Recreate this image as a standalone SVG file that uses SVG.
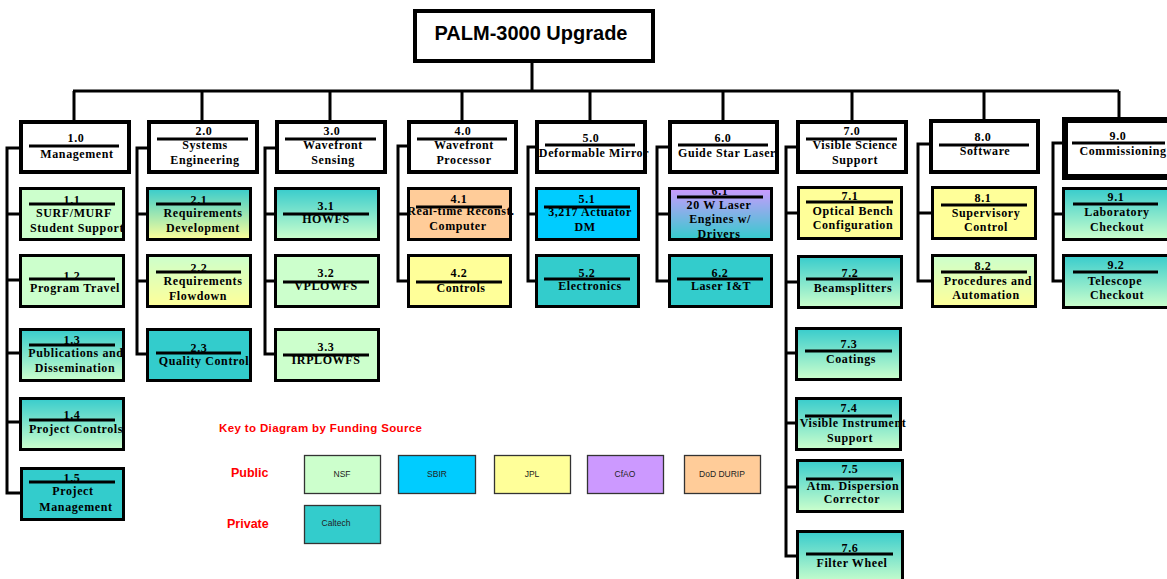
<svg xmlns="http://www.w3.org/2000/svg" width="1167" height="579" viewBox="0 0 1167 579">
<defs>
<linearGradient id="gTG" x1="0" y1="0" x2="0" y2="1"><stop offset="0" stop-color="#38cccc"/><stop offset="1" stop-color="#ccffcc"/></linearGradient>
<linearGradient id="gTY" x1="0" y1="0" x2="0" y2="1"><stop offset="0" stop-color="#38cccc"/><stop offset="1" stop-color="#ffff99"/></linearGradient>
<linearGradient id="gGY" x1="0" y1="0" x2="0" y2="1"><stop offset="0" stop-color="#ccffcc"/><stop offset="1" stop-color="#ffff99"/></linearGradient>
<linearGradient id="gPT" x1="0" y1="0" x2="0" y2="1"><stop offset="0" stop-color="#cc99ff"/><stop offset="1" stop-color="#33cccc"/></linearGradient>
</defs>
<style>
.hdr{fill:#fff;stroke:#000;stroke-width:4}
.box{stroke:#000;stroke-width:3}
.t{font-family:"Liberation Serif","Times New Roman",serif;font-weight:bold;font-size:12px;letter-spacing:0.6px;text-anchor:middle;fill:#000}
.rule{stroke:#000;stroke-width:3}
.conn{stroke:#000;stroke-width:3;fill:none}
.nsf{fill:#ccffcc}.sbir{fill:#00ccff}.jpl{fill:#ffff99}.cfao{fill:#cc99ff}.dod{fill:#ffcc99}.cit{fill:#33cccc}
.key{stroke:#333;stroke-width:1.3}
.kt{font-family:"Liberation Sans",Arial,sans-serif;font-size:8.5px;fill:#222;text-anchor:middle}
.red{font-family:"Liberation Sans",Arial,sans-serif;font-weight:bold;fill:#ff0000}
</style>
<rect width="1167" height="579" fill="#fff"/>
<g id="connectors">
<path class="conn" d="M532 63V91M73 91H1119M74 91V120M202 91V120M330 91V120M462 91V120M590 91V120M723 91V120M852 91V120M984 91V119M1119 91V118"/>
<path class="conn" d="M21 148H7V493H20M7 214H19M7 280H19M7 353H19M7 422H19"/>
<path class="conn" d="M149 148H137V354H146M137 214H146M137 281H146"/>
<path class="conn" d="M277 148H265V354H274M265 214H274M265 281H274"/>
<path class="conn" d="M409 146H398V281H407M398 214H407"/>
<path class="conn" d="M537 147H528V281H535M528 214H535"/>
<path class="conn" d="M670 147H657V281H668M657 214H668"/>
<path class="conn" d="M798 147H786V556H796M786 213H797M786 282H797M786 353H795M786 423H795M786 487H796"/>
<path class="conn" d="M931 144H918V281H931M918 213H931"/>
<path class="conn" d="M1064 143H1053V281H1062M1053 214H1062"/>
</g>
<g id="root">
<rect x="415" y="11" width="238" height="50" fill="#fff" stroke="#000" stroke-width="4"/>
<text x="531" y="40" font-family="Liberation Sans,Arial,sans-serif" font-weight="bold" font-size="20" text-anchor="middle">PALM-3000 Upgrade</text>
</g>
<g id="h1"><rect class="hdr" x="21" y="122" width="108" height="50"/><text class="t" x="76" y="142">1.0</text><line class="rule" x1="29" y1="146" x2="119" y2="146"/><text class="t" x="77" y="158">Management</text></g>
<g id="h2"><rect class="hdr" x="149" y="122" width="108" height="50"/><text class="t" x="204" y="135">2.0</text><line class="rule" x1="157" y1="139" x2="248" y2="139"/><text class="t" x="205" y="149">Systems</text><text class="t" x="205" y="164">Engineering</text></g>
<g id="h3"><rect class="hdr" x="277" y="122" width="108" height="50"/><text class="t" x="332" y="135">3.0</text><line class="rule" x1="285" y1="139" x2="376" y2="139"/><text class="t" x="333" y="149">Wavefront</text><text class="t" x="333" y="164">Sensing</text></g>
<g id="h4"><rect class="hdr" x="409" y="122" width="107" height="50"/><text class="t" x="463" y="135">4.0</text><line class="rule" x1="417" y1="139" x2="507" y2="139"/><text class="t" x="464" y="149">Wavefront</text><text class="t" x="464" y="164">Processor</text></g>
<g id="h5"><rect class="hdr" x="537" y="122" width="108" height="50"/><text class="t" x="591" y="142">5.0</text><line class="rule" x1="545" y1="145" x2="635" y2="145"/><text class="t" x="594" y="157">Deformable Mirror</text></g>
<g id="h6"><rect class="hdr" x="670" y="122" width="107" height="50"/><text class="t" x="723" y="142">6.0</text><line class="rule" x1="678" y1="145" x2="768" y2="145"/><text class="t" x="727" y="157">Guide Star Laser</text></g>
<g id="h7"><rect class="hdr" x="798" y="122" width="108" height="50"/><text class="t" x="852" y="135">7.0</text><line class="rule" x1="806" y1="139" x2="897" y2="139"/><text class="t" x="855" y="149">Visible Science</text><text class="t" x="855" y="164">Support</text></g>
<g id="h8"><rect class="hdr" x="931" y="121" width="107" height="51"/><text class="t" x="983" y="141">8.0</text><line class="rule" x1="939" y1="145" x2="1029" y2="145"/><text class="t" x="985" y="155">Software</text></g>
<g id="h9"><rect x="1065" y="120" width="110" height="57" fill="#fff" stroke="#000" stroke-width="6"/><text class="t" x="1118" y="140">9.0</text><line class="rule" x1="1072" y1="143" x2="1165" y2="143"/><text class="t" x="1123" y="155">Commissioning</text></g>

<g id="n1_1"><rect class="box nsf" x="20.5" y="188.5" width="103" height="51"/><text class="t" x="72" y="204">1.1</text><line class="rule" x1="29" y1="204" x2="115" y2="204"/><text class="t" x="74" y="217">SURF/MURF</text><text class="t" x="77" y="232">Student Support</text></g>
<g id="n1_2"><rect class="box nsf" x="20.5" y="255.5" width="103" height="51"/><text class="t" x="72" y="280">1.2</text><line class="rule" x1="29" y1="279" x2="115" y2="279"/><text class="t" x="75" y="292">Program Travel</text></g>
<g id="n1_3"><rect class="box" fill="url(#gTG)" x="20.5" y="329.5" width="103" height="51"/><text class="t" x="72" y="344">1.3</text><line class="rule" x1="29" y1="345" x2="115" y2="345"/><text class="t" x="76" y="357">Publications and</text><text class="t" x="75" y="372">Dissemination</text></g>
<g id="n1_4"><rect class="box" fill="url(#gTG)" x="20.5" y="398.5" width="103" height="51"/><text class="t" x="72" y="419">1.4</text><line class="rule" x1="29" y1="420" x2="115" y2="420"/><text class="t" x="76" y="433">Project Controls</text></g>
<g id="n1_5"><rect class="box cit" x="21.5" y="468.5" width="102" height="51"/><text class="t" x="72" y="482">1.5</text><line class="rule" x1="29" y1="482" x2="115" y2="482"/><text class="t" x="73" y="495">Project</text><text class="t" x="76" y="511">Management</text></g>

<g id="n2_1"><rect class="box" fill="url(#gTY)" x="147.5" y="188.5" width="103" height="51"/><text class="t" x="199" y="204">2.1</text><line class="rule" x1="156" y1="204" x2="241" y2="204"/><text class="t" x="203" y="217">Requirements</text><text class="t" x="203" y="232">Development</text></g>
<g id="n2_2"><rect class="box" fill="url(#gGY)" x="147.5" y="255.5" width="103" height="51"/><text class="t" x="199" y="272">2.2</text><line class="rule" x1="156" y1="272" x2="241" y2="272"/><text class="t" x="203" y="285">Requirements</text><text class="t" x="198" y="300">Flowdown</text></g>
<g id="n2_3"><rect class="box cit" x="147.5" y="329.5" width="103" height="51"/><text class="t" x="199" y="352">2.3</text><line class="rule" x1="156" y1="353" x2="241" y2="353"/><text class="t" x="204" y="365">Quality Control</text></g>

<g id="n3_1"><rect class="box" fill="url(#gTG)" x="275.5" y="188.5" width="103" height="51"/><text class="t" x="326" y="210">3.1</text><line class="rule" x1="283" y1="214" x2="369" y2="214"/><text class="t" x="326" y="223">HOWFS</text></g>
<g id="n3_2"><rect class="box nsf" x="275.5" y="255.5" width="103" height="51"/><text class="t" x="326" y="277">3.2</text><line class="rule" x1="283" y1="282" x2="369" y2="282"/><text class="t" x="326" y="290">VPLOWFS</text></g>
<g id="n3_3"><rect class="box nsf" x="275.5" y="329.5" width="103" height="51"/><text class="t" x="326" y="351">3.3</text><line class="rule" x1="283" y1="355" x2="369" y2="355"/><text class="t" x="326" y="364">IRPLOWFS</text></g>

<g id="n4_1"><rect class="box dod" x="408.5" y="188.5" width="102" height="51"/><text class="t" x="459" y="203">4.1</text><line class="rule" x1="416" y1="207" x2="502" y2="207"/><text class="t" x="461" y="215">Real-time Reconst.</text><text class="t" x="458" y="230">Computer</text></g>
<g id="n4_2"><rect class="box jpl" x="408.5" y="255.5" width="102" height="51"/><text class="t" x="459" y="277">4.2</text><line class="rule" x1="416" y1="282" x2="502" y2="282"/><text class="t" x="461" y="292">Controls</text></g>

<g id="n5_1"><rect class="box sbir" x="536.5" y="188.5" width="102" height="51"/><text class="t" x="587" y="203">5.1</text><line class="rule" x1="544" y1="207" x2="630" y2="207"/><text class="t" x="590" y="216">3,217 Actuator</text><text class="t" x="585" y="231">DM</text></g>
<g id="n5_2"><rect class="box cit" x="536.5" y="255.5" width="102" height="51"/><text class="t" x="587" y="277">5.2</text><line class="rule" x1="544" y1="279" x2="630" y2="279"/><text class="t" x="590" y="290">Electronics</text></g>

<g id="n6_1"><rect x="669.5" y="188.5" width="102" height="51" fill="url(#gPT)"/><text class="t" x="720" y="195">6.1</text><line class="rule" x1="677" y1="197" x2="763" y2="197"/><text class="t" x="719" y="209">20 W Laser</text><text class="t" x="720" y="223">Engines w/</text><text class="t" x="719" y="238">Drivers</text><rect x="669.5" y="188.5" width="102" height="51" fill="none" stroke="#000" stroke-width="3"/></g>
<g id="n6_2"><rect class="box cit" x="669.5" y="255.5" width="102" height="51"/><text class="t" x="720" y="277">6.2</text><line class="rule" x1="677" y1="279" x2="763" y2="279"/><text class="t" x="721" y="290">Laser I&amp;T</text></g>

<g id="n7_1"><rect class="box jpl" x="798.5" y="187.5" width="103" height="51"/><text class="t" x="850" y="200">7.1</text><line class="rule" x1="806" y1="202" x2="893" y2="202"/><text class="t" x="853" y="215">Optical Bench</text><text class="t" x="853" y="229">Configuration</text></g>
<g id="n7_2"><rect class="box" fill="url(#gTG)" x="798.5" y="256.5" width="103" height="51"/><text class="t" x="850" y="277">7.2</text><line class="rule" x1="806" y1="279" x2="893" y2="279"/><text class="t" x="853" y="292">Beamsplitters</text></g>
<g id="n7_3"><rect class="box" fill="url(#gTG)" x="796.5" y="328.5" width="104" height="51"/><text class="t" x="849" y="348">7.3</text><line class="rule" x1="805" y1="351" x2="892" y2="351"/><text class="t" x="851" y="363">Coatings</text></g>
<g id="n7_4"><rect class="box" fill="url(#gTG)" x="796.5" y="398.5" width="104" height="51"/><text class="t" x="849" y="412">7.4</text><line class="rule" x1="805" y1="416" x2="892" y2="416"/><text class="t" x="853" y="427">Visible Instrument</text><text class="t" x="850" y="442">Support</text></g>
<g id="n7_5"><rect class="box" fill="url(#gTG)" x="797.5" y="460.5" width="105" height="51"/><text class="t" x="850" y="473">7.5</text><line class="rule" x1="806" y1="479" x2="893" y2="479"/><text class="t" x="853" y="490">Atm. Dispersion</text><text class="t" x="852" y="503">Corrector</text></g>
<g id="n7_6"><rect class="box" fill="url(#gTG)" x="797.5" y="531.5" width="105" height="52"/><text class="t" x="850" y="552">7.6</text><line class="rule" x1="806" y1="554" x2="893" y2="554"/><text class="t" x="852" y="567">Filter Wheel</text></g>

<g id="n8_1"><rect class="box jpl" x="932.5" y="187.5" width="103" height="51"/><text class="t" x="983" y="202">8.1</text><line class="rule" x1="941" y1="205" x2="1027" y2="205"/><text class="t" x="986" y="217">Supervisory</text><text class="t" x="986" y="231">Control</text></g>
<g id="n8_2"><rect class="box" fill="url(#gGY)" x="932.5" y="255.5" width="103" height="51"/><text class="t" x="983" y="270">8.2</text><line class="rule" x1="941" y1="272" x2="1027" y2="272"/><text class="t" x="988" y="285">Procedures and</text><text class="t" x="986" y="299">Automation</text></g>

<g id="n9_1"><rect class="box" fill="url(#gTG)" x="1063.5" y="188.5" width="106" height="51"/><text class="t" x="1116" y="201">9.1</text><line class="rule" x1="1073" y1="204" x2="1158" y2="204"/><text class="t" x="1117" y="216">Laboratory</text><text class="t" x="1117" y="231">Checkout</text></g>
<g id="n9_2"><rect class="box" fill="url(#gTG)" x="1063.5" y="255.5" width="106" height="52"/><text class="t" x="1116" y="269">9.2</text><line class="rule" x1="1073" y1="272" x2="1158" y2="272"/><text class="t" x="1115" y="285">Telescope</text><text class="t" x="1117" y="299">Checkout</text></g>

<g id="key">
<text class="red" x="219" y="432" font-size="11.5" textLength="203" lengthAdjust="spacing">Key to Diagram by Funding Source</text>
<text class="red" x="231" y="477" font-size="12.5">Public</text>
<text class="red" x="227" y="528" font-size="12.5">Private</text>
<rect class="key nsf" x="304.5" y="455.5" width="76" height="38"/><text class="kt" x="342" y="477">NSF</text>
<rect class="key sbir" x="398.5" y="455.5" width="77" height="38"/><text class="kt" x="437" y="477">SBIR</text>
<rect class="key jpl" x="494.5" y="455.5" width="76" height="38"/><text class="kt" x="532" y="477">JPL</text>
<rect class="key cfao" x="587.5" y="455.5" width="76" height="38"/><text class="kt" x="625" y="477">CfAO</text>
<rect class="key dod" x="684.5" y="455.5" width="76" height="38"/><text class="kt" x="722" y="477">DoD DURIP</text>
<rect class="key cit" x="304.5" y="505.5" width="76" height="38"/><text class="kt" x="336" y="526">Caltech</text>
</g>
</svg>
